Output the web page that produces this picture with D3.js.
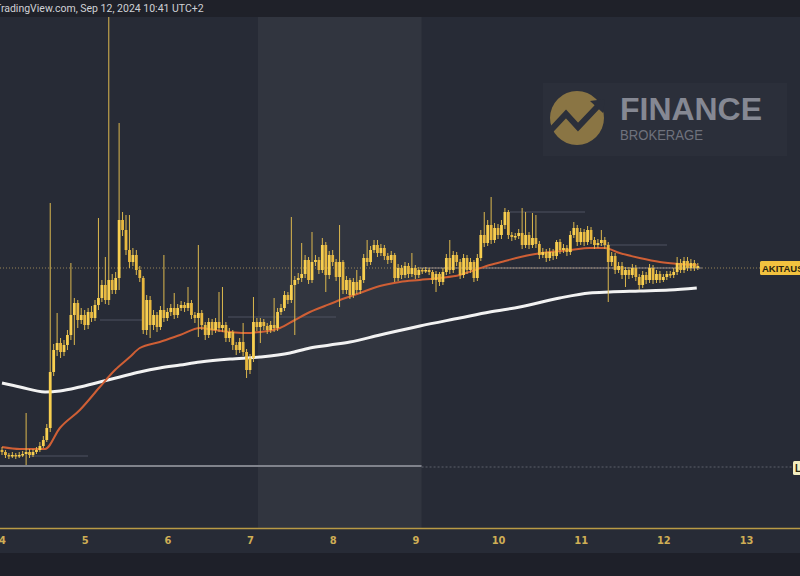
<!DOCTYPE html>
<html><head><meta charset="utf-8">
<script src="https://cdn.jsdelivr.net/npm/d3@7"></script>
<style>html,body{margin:0;padding:0;background:#1e2029;overflow:hidden}</style>
</head><body><svg id="c" width="800" height="576"></svg>
<script>
// ---- DATA (hourly AKITA/USDT candles, Sep 4 00:00 -> Sep 12 10:00, price in chart units) ----
const startTime = Date.UTC(2024, 8, 4, 0);
const firstOpen = 150;
const closes = [148,145,144,145,144,145,146,148,145,148,150,154,160,172,228,250,257,248,255,265,
285,297,280,285,275,288,282,295,302,315,300,320,310,322,380,370,350,338,345,330,
322,270,300,275,285,273,290,282,288,292,285,292,295,292,297,285,282,287,275,265,
278,270,278,272,275,262,268,255,250,258,248,230,242,278,273,278,274,270,275,272,
288,292,305,300,315,320,322,326,340,320,338,340,330,355,325,345,338,323,338,310,
320,305,318,310,320,342,338,350,355,347,352,344,340,345,322,332,325,334,326,332,
325,330,329,330,328,320,326,318,328,342,330,345,338,325,342,330,338,322,342,365,
357,375,360,372,365,375,388,365,363,364,367,355,365,355,362,356,345,348,342,348,
344,358,350,352,348,365,372,358,368,358,370,360,355,357,360,355,338,344,330,334,
325,330,325,332,323,315,325,320,332,320,326,320,323,326,325,328,337,330,339,332,
337,332,334];
const highs = [153,150,147,148,147,148,149,187,151,151,153,158,164,176,397,256,287,262,260,270,
337,302,300,292,290,292,294,300,382,320,343,583,326,328,477,388,385,385,352,350,
334,324,305,304,290,288,294,345,292,296,307,296,299,298,313,300,288,355,290,278,
282,281,282,308,313,278,272,270,258,262,277,251,246,303,282,282,281,277,279,302,
292,296,309,308,383,324,327,357,345,343,368,345,343,362,358,349,350,341,375,340,
324,322,322,330,324,346,360,354,360,360,356,355,347,349,347,336,335,338,337,347,
335,333,332,333,332,330,329,328,332,346,360,349,348,341,346,345,342,340,346,370,
388,380,403,377,376,380,392,390,368,367,371,392,388,368,387,385,359,352,351,352,
351,360,361,356,355,369,378,375,372,371,374,373,363,361,370,363,358,348,347,338,
338,333,333,336,335,326,329,328,336,335,330,329,326,329,329,332,343,341,343,343,
341,340,337];
const lows = [145,142,141,142,141,142,143,135,142,143,146,148,152,158,168,224,244,242,244,250,
260,255,272,276,270,271,278,279,290,298,296,295,306,306,310,364,345,332,334,325,
318,266,265,262,270,268,270,278,279,284,281,282,289,288,289,281,277,263,270,260,
262,265,267,268,268,258,258,250,245,247,244,222,226,238,269,257,270,266,267,268,
269,285,289,296,297,265,316,318,322,316,317,334,326,327,308,321,334,319,293,306,
306,301,302,306,306,317,334,335,347,343,344,340,336,337,318,319,321,322,322,323,
321,322,326,327,325,316,308,314,315,325,326,327,334,321,322,326,327,318,319,339,
353,354,356,357,361,361,371,361,359,360,361,351,352,351,352,352,341,342,338,339,
340,341,346,347,344,345,362,354,355,354,355,356,351,352,354,351,298,334,326,327,
321,313,321,322,319,310,312,316,317,316,317,317,318,320,322,322,325,327,327,329,
329,329,330];
// moving averages: [hour since start, value]
const maFastHours = [0,5.2,12.5,16.8,22.6,28.4,32.8,37.1,40,45.8,51.7,57.5,61.8,66.2,70.5,74.9,80.7,85,89.4,93.7,98.1,103.9,109.7,115.5,121.3,127.1,132.9,137.3,141.6,146,153.2,159,164.8,170.6,175,179.3,185.1,191,196.7,201.7];
const maFastVals  = [153,151,151,172,190,213,230,243,252,258,265,272,270,268,267,268,272,280,288,294,300,307,314,318,320,322,325,330,335,339,345,348,350,352,352,347,342,338,336,335];
const maSlowHours = [0,5.2,12.5,16.8,22.6,28.4,34.2,40,45.8,51.7,57.5,66.2,74.9,83.6,89.4,95.2,101,109.7,121.3,132.9,141.6,150.3,161.9,170.6,176.4,185.1,193.8,201.7];
const maSlowVals  = [217,213,208,209,213,218,223,228,232,235,238,241,243,247,252,255,258,265,274,282,288,293,302,307,308,309,310,312];
const lastPriceLevel = 332;
const supportLevel = 134;
const dayTicks = [4,5,6,7,8,9,10,11,12,13];
const headerText = "TradingView.com, Sep 12, 2024 10:41 UTC+2";
const symbolLabel = "AKITAUSDT";
const supportLabel = "L";

// ---- LAYOUT ----
const W = 800, Hh = 576, topY = 17, axisY = 528, axisBottom = 553;
const pxPerDay = 82.67;
const dayMs = 86400000, hourMs = 3600000;
const t0 = startTime - (2 / pxPerDay) * dayMs;
const t1 = t0 + (W / pxPerDay) * dayMs;
const x = d3.scaleUtc().domain([new Date(t0), new Date(t1)]).range([0, W]);
const y = d3.scaleLinear().domain([72, 583]).range([axisY, topY]);

const candles = closes.map((c, i) => ({
  t: new Date(startTime + i * hourMs),
  o: i === 0 ? firstOpen : closes[i - 1], c, h: highs[i], l: lows[i]
}));

const svg = d3.select("#c");
svg.append("rect").attr("width", W).attr("height", Hh).attr("fill", "#1e2029");
svg.append("rect").attr("x", 0).attr("y", topY).attr("width", W).attr("height", axisBottom - topY).attr("fill", "#272b36");
// weekend shading
const wkStart = x(new Date(startTime + 74.3 * hourMs));
const wkEnd = x(new Date(startTime + 121.8 * hourMs));
svg.append("rect").attr("x", wkStart).attr("y", topY)
  .attr("width", wkEnd - wkStart).attr("height", axisY - topY).attr("fill", "#31353f");
// header
svg.append("rect").attr("width", W).attr("height", topY).attr("fill", "#1f2129");
svg.append("text").attr("x", -5).attr("y", 12).attr("fill", "#cfd1d6")
  .attr("font-family", "Roboto, 'DejaVu Sans', sans-serif").attr("font-size", 10.5).text(headerText);

// logo watermark
const logo = svg.append("g");
logo.append("rect").attr("x", 543).attr("y", 83).attr("width", 244).attr("height", 73).attr("fill", "#2b2f3a");
logo.append("circle").attr("cx", 577).attr("cy", 118).attr("r", 27).attr("fill", "#8a7544");
logo.append("polyline").attr("points", "551,130 566,114 578,127 598,106")
  .attr("fill", "none").attr("stroke", "#2b2f3a").attr("stroke-width", 6).attr("stroke-linejoin", "miter");
logo.append("polygon").attr("points", "590,101 605,99 603,113").attr("fill", "#2b2f3a");
logo.append("text").attr("x", 620).attr("y", 120).attr("fill", "#858893").attr("font-weight", "bold")
  .attr("font-family", "'Liberation Sans', Arial, sans-serif").attr("font-size", 31)
  .attr("textLength", 142).attr("lengthAdjust", "spacingAndGlyphs").text("FINANCE");
logo.append("text").attr("x", 620).attr("y", 140).attr("fill", "#6f727d")
  .attr("font-family", "'Liberation Sans', Arial, sans-serif").attr("font-size", 15)
  .attr("textLength", 83).attr("lengthAdjust", "spacingAndGlyphs").text("BROKERAGE");

// plot clip
svg.append("defs").append("clipPath").attr("id", "plot").append("rect")
  .attr("x", 0).attr("y", topY).attr("width", W).attr("height", axisY - topY);
const plot = svg.append("g").attr("clip-path", "url(#plot)");

// faint reference lines
const refLines = [[30, 88, 456], [100, 142, 320], [228, 336, 317], [510, 585, 212], [600, 667, 245]];
refLines.forEach(([a, b, yy]) => plot.append("line").attr("x1", a).attr("x2", b).attr("y1", yy).attr("y2", yy)
  .attr("stroke", "#4f5360").attr("stroke-width", 1));

// support line
const supY = y(supportLevel);
plot.append("line").attr("x1", 0).attr("x2", wkEnd).attr("y1", supY).attr("y2", supY)
  .attr("stroke", "#80838c").attr("stroke-width", 2);
plot.append("line").attr("x1", wkEnd).attr("x2", 795).attr("y1", supY + 1).attr("y2", supY + 1)
  .attr("stroke", "#5c606b").attr("stroke-width", 1).attr("stroke-dasharray", "2,2");

// last price lines
const lpY = y(lastPriceLevel);
plot.append("line").attr("x1", 0).attr("x2", 760).attr("y1", lpY).attr("y2", lpY)
  .attr("stroke", "#b59a5e").attr("stroke-width", 1).attr("stroke-dasharray", "1,2").attr("opacity", 0.8);
plot.append("line").attr("x1", 420).attr("x2", 702).attr("y1", lpY).attr("y2", lpY)
  .attr("stroke", "#9a8f90").attr("stroke-width", 2).attr("opacity", 0.45);

// moving averages
const line = d3.line().curve(d3.curveMonotoneX)
  .x(d => x(new Date(startTime + d[0] * hourMs))).y(d => y(d[1]));
plot.append("path").datum(maSlowHours.map((h, i) => [h, maSlowVals[i]]))
  .attr("d", line).attr("fill", "none").attr("stroke", "#f2f2f2").attr("stroke-width", 3);
plot.append("path").datum(maFastHours.map((h, i) => [h, maFastVals[i]]))
  .attr("d", line).attr("fill", "none").attr("stroke", "#cf5f35").attr("stroke-width", 2);

// candles
const bw = 2.8;
const cg = plot.append("g").selectAll("g").data(candles).join("g");
cg.append("line").attr("x1", d => x(d.t)).attr("x2", d => x(d.t))
  .attr("y1", d => y(d.h)).attr("y2", d => y(d.l)).attr("stroke", "#dcb84e").attr("stroke-width", 1);
cg.append("rect").attr("x", d => x(d.t) - bw / 2).attr("width", bw)
  .attr("y", d => y(Math.max(d.o, d.c))).attr("height", d => Math.max(1.5, Math.abs(y(d.o) - y(d.c))))
  .attr("fill", d => d.c >= d.o ? "#f8cf50" : "#e8b840");

// price labels
const lab = svg.append("g");
lab.append("rect").attr("x", 760).attr("y", lpY - 7).attr("width", 44).attr("height", 14).attr("rx", 1.5).attr("fill", "#f2c23f");
lab.append("text").attr("x", 762).attr("y", lpY + 3.5).attr("fill", "#2a2410").attr("font-weight", "bold")
  .attr("font-family", "'Liberation Sans', Arial, sans-serif").attr("font-size", 9.5).text(symbolLabel);
lab.append("rect").attr("x", 793).attr("y", supY - 5).attr("width", 12).attr("height", 14).attr("rx", 1.5).attr("fill", "#f3eec0");
lab.append("text").attr("x", 795).attr("y", supY + 6).attr("fill", "#2a2410").attr("font-weight", "bold")
  .attr("font-family", "'Liberation Sans', Arial, sans-serif").attr("font-size", 10).text(supportLabel);

// x axis
svg.append("line").attr("x1", 0).attr("x2", W).attr("y1", axisY + 0.5).attr("y2", axisY + 0.5)
  .attr("stroke", "#b99a45").attr("stroke-width", 1.5);
const tickDates = dayTicks.map(d => new Date(Date.UTC(2024, 8, d)));
const ax = svg.append("g").attr("transform", `translate(0,${axisY})`)
  .call(d3.axisBottom(x).tickValues(tickDates).tickFormat(d3.utcFormat("%-d")).tickSize(0).tickPadding(8));
ax.select(".domain").remove();
ax.selectAll("text").attr("fill", "#cfae55").attr("font-size", 11).attr("font-weight", "bold")
  .attr("font-family", "'Liberation Sans Narrow', 'DejaVu Sans Condensed', sans-serif");
</script></body></html>
